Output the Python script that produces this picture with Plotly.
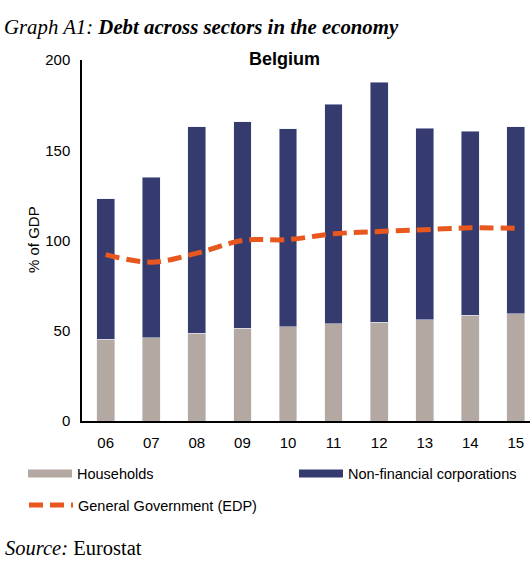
import plotly.graph_objects as go

# Belgium, debt by sector, % of GDP
years = ["06", "07", "08", "09", "10", "11", "12", "13", "14", "15"]
households = [45.3, 46.2, 48.6, 51.4, 52.3, 54.0, 54.7, 56.0, 58.6, 59.3]
non_fin_corp = [77.9, 88.8, 114.4, 114.3, 109.7, 121.5, 133.0, 106.2, 102.0, 103.7]
gen_gov = [92.2, 88.0, 93.0, 100.0, 100.5, 103.7, 105.0, 106.0, 107.0, 106.8]
y_ticks = [0, 50, 100, 150, 200]

HH_COL = "#b4a8a2"
NFC_COL = "#363b6f"
GOV_COL = "#e8571e"
SANS = "Liberation Sans, Arial, sans-serif"
SERIF = "Liberation Serif, Times New Roman, serif"

fig = go.Figure()

fig.add_trace(go.Bar(x=years, y=households, name="Households", marker_color=HH_COL,
                     width=0.39, showlegend=False))
fig.add_trace(go.Bar(x=years, y=non_fin_corp, name="Non-financial corporations",
                     marker_color=NFC_COL, width=0.39, showlegend=False))
fig.add_trace(go.Scatter(x=years, y=gen_gov, name="General Government (EDP)", mode="lines",
                         line=dict(color=GOV_COL, width=5, dash="14px,7px", shape="spline"),
                         legend="legend3"))

# legend proxies so the swatches are wide bars like the original
fig.add_trace(go.Scatter(x=[None], y=[None], mode="lines", name="Households",
                         line=dict(color=HH_COL, width=8), legend="legend"))
fig.add_trace(go.Scatter(x=[None], y=[None], mode="lines", name="Non-financial corporations",
                         line=dict(color=NFC_COL, width=8), legend="legend2"))

leg = dict(font=dict(family=SANS, size=14.5, color="#000"), bgcolor="rgba(0,0,0,0)",
           yanchor="middle", xanchor="left", itemwidth=44)

fig.update_layout(
    width=531, height=564,
    margin=dict(l=82, r=1, t=60, b=143),
    plot_bgcolor="white", paper_bgcolor="white",
    barmode="stack",
    title=dict(text="<i>Graph A1: </i><b><i>Debt across sectors in the economy</i></b>",
               xref="container", yref="container", x=4 / 531, y=1 - 27 / 564,
               xanchor="left", yanchor="middle",
               font=dict(family=SERIF, size=20.8, color="#000")),
    xaxis=dict(range=[-0.52, 9.31], showline=True, linecolor="#000", linewidth=1.5,
               ticks="", showgrid=False, tickfont=dict(family=SANS, size=15, color="#000"),
               ticklabelstandoff=7),
    yaxis=dict(range=[0, 200], tickvals=y_ticks, showline=True, linecolor="#000",
               linewidth=1.5, ticks="", showgrid=False, zeroline=False,
               tickfont=dict(family=SANS, size=15, color="#000"), ticklabelstandoff=7),
    legend=dict(leg, x=(23 - 82) / 448, y=(421 - 473.5) / 361),
    legend2=dict(leg, x=(294 - 82) / 448, y=(421 - 473.5) / 361),
    legend3=dict(leg, x=(24 - 82) / 448, y=(421 - 505) / 361),
    annotations=[
        dict(text="<b>Belgium</b>", xref="paper", yref="paper", x=(284 - 82) / 448,
             y=(421 - 59) / 361, xanchor="center", yanchor="middle", showarrow=False,
             font=dict(family=SANS, size=18, color="#000")),
        dict(text="% of GDP", xref="paper", yref="paper", x=(33 - 82) / 448,
             y=(421 - 240) / 361, xanchor="center", yanchor="middle", textangle=-90,
             showarrow=False, font=dict(family=SANS, size=15, color="#000")),
        dict(text="<i>Source: </i>Eurostat", xref="paper", yref="paper", x=(3 - 82) / 448,
             y=(421 - 548) / 361, xanchor="left", yanchor="middle", showarrow=False,
             font=dict(family=SERIF, size=20.5, color="#000")),
    ],
)

# drop the default page margin so the figure sits at the window's corner
fig.write_html("out.html", config={"displayModeBar": False},
               post_script="document.body.style.margin='0';")
